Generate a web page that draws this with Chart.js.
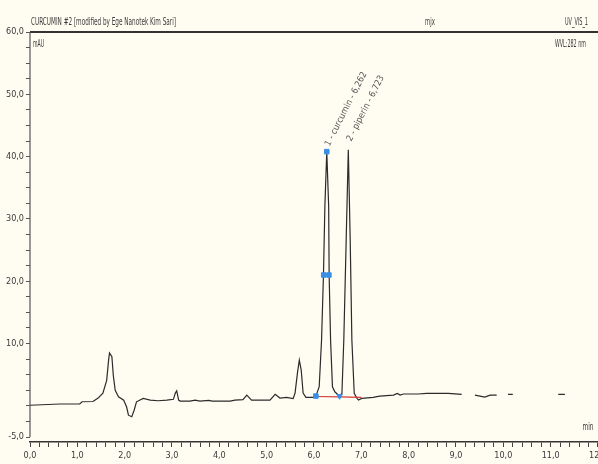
<!DOCTYPE html>
<html>
<head>
<meta charset="utf-8">
<script src="https://cdn.jsdelivr.net/npm/chart.js@4.4.1/dist/chart.umd.min.js"></script>
<style>
  html, body { margin: 0; padding: 0; background: #fffcf2; width: 598px; height: 464px; overflow: hidden; }
</style>
</head>
<body>
<!-- canvas is wider than the window so the last x label ("12,0") is cut like in the original -->
<canvas id="chromatogram" width="610" height="464"></canvas>
<script>
// retention time (min) / signal (mAU); null = gap in the plotted line
const retentionTimes = [
  0, 0.63, 1.05, 1.10, 1.33, 1.44, 1.54, 1.62, 1.66, 1.68, 1.73, 1.76, 1.80, 1.87, 1.98,
  2.04, 2.08, 2.15, 2.20, 2.25, 2.39, 2.54, 2.71, 2.89, 3.03, 3.07, 3.10, 3.14, 3.17, 3.38,
  3.49, 3.59, 3.78, 3.85, 4.23, 4.33, 4.50, 4.58, 4.68, 5.07, 5.18, 5.28, 5.42, 5.56, 5.60,
  5.65, 5.69, 5.73, 5.77, 5.83, 5.99, 6.04, 6.11, 6.16, 6.20, 6.23, 6.27, 6.31, 6.32, 6.35,
  6.39, 6.44, 6.54, 6.59, 6.63, 6.68, 6.725, 6.765, 6.80, 6.85, 6.91, 6.94, 7.01, 7.25, 7.39,
  7.68, 7.76, 7.82, 7.89, 8.20, 8.38, 8.84, 9.12, 9.25, 9.40, 9.61, 9.72, 9.86, 9.98, 10.10,
  10.20, 10.60, 11.16, 11.30
];
const absorbance = [
  0.1, 0.3, 0.3, 0.66, 0.7, 1.25, 2.05, 4.1, 7.3, 8.5, 7.9, 4.9, 2.5, 1.45, 0.9,
  -0.15, -1.5, -1.75, -0.7, 0.65, 1.2, 0.93, 0.82, 0.93, 1.05, 2.05, 2.4, 0.93, 0.77, 0.77,
  0.93, 0.77, 0.88, 0.77, 0.77, 0.93, 1.0, 1.73, 0.93, 0.93, 1.85, 1.25, 1.36, 1.17, 2.05,
  5.26, 7.35, 5.75, 2.05, 1.36, 1.36, 1.57, 3.07, 10.6, 21.0, 32.0, 40.8, 32.0, 21.0, 10.6,
  3.07, 2.26, 1.57, 2.0, 10.6, 26.6, 41.1, 26.6, 10.6, 2.0, 1.2, 0.93, 1.2, 1.36, 1.57,
  1.73, 2.0, 1.73, 1.9, 1.9, 2.0, 2.0, 1.85, null, 1.73, 1.4, 1.73, 1.73, null, 1.85,
  1.85, null, 1.85, 1.85
];

// integration marks (peak top, half-height, start, valley)
const markerTimes = [6.27, 6.205, 6.315, 6.04, 6.54];
const markerValues = [40.8, 21.0, 21.0, 1.57, 1.57];
const markerStyles = ['rect', 'rect', 'rect', 'rect', 'triangle'];

// integration baseline
const baselineTimes = [6.04, 6.54, 7.0];
const baselineValues = [1.5, 1.45, 1.35];

// peak annotations
const peakNames = ['1 - curcumin - 6,262', '2 - piperin - 6,723'];
const peakTimes = [6.262, 6.72];
const peakHeights = [40.8, 41.1];

const yLabelValues = [60, 50, 40, 30, 20, 10, -5];
const yMin = -5.8, yMax = 60;
const xMin = 0, xMax = 12;

const FONT = "'Liberation Sans Narrow', 'DejaVu Sans Condensed', 'Liberation Sans', sans-serif";
const TEXT = '#3a3a3a';

function fmt(v) {
  return v.toFixed(1).replace('.', ',');
}

// squeeze a text horizontally to the width it has in the original
function fitText(ctx, str, x, y, align, width) {
  const w = ctx.measureText(str).width;
  const k = Math.min(1, width / w);
  ctx.save();
  ctx.translate(x, y);
  ctx.scale(k, 1);
  ctx.textAlign = align;
  ctx.fillText(str, 0, 0);
  ctx.restore();
}

const frame = {
  id: 'frame',
  afterDraw(chart) {
    const { ctx, chartArea } = chart;
    const x = chart.scales.x, y = chart.scales.y;
    const top = y.getPixelForValue(yMax);
    const bottom = y.getPixelForValue(-5);
    ctx.save();
    ctx.strokeStyle = '#333';
    ctx.lineWidth = 2;
    ctx.beginPath();
    ctx.moveTo(chartArea.left, top);
    ctx.lineTo(chartArea.right, top);
    ctx.stroke();
    ctx.lineWidth = 1.2;
    ctx.strokeStyle = '#555';
    ctx.beginPath();
    ctx.moveTo(chartArea.left, top);
    ctx.lineTo(chartArea.left, bottom);
    ctx.stroke();

    ctx.fillStyle = TEXT;
    ctx.font = '10px ' + FONT;
    ctx.textBaseline = 'middle';
    fitText(ctx, 'CURCUMIN #2 [modified by Ege Nanotek Kim Sari]', 31, 22, 'left', 145);
    fitText(ctx, 'mAU', 33, 44, 'left', 11);
    fitText(ctx, 'mjx', 430, 22, 'center', 10);
    fitText(ctx, 'min', 588, 427, 'center', 11);
    fitText(ctx, 'UV_VIS_1', 588, 22, 'right', 23);
    fitText(ctx, 'WVL:282 nm', 586, 44, 'right', 31);

    // rotated peak labels
    ctx.font = '9px ' + FONT;
    ctx.textAlign = 'left';
    ctx.fillStyle = '#555';
    peakNames.forEach((name, i) => {
      const px = x.getPixelForValue(peakTimes[i]);
      const py = y.getPixelForValue(peakHeights[i]);
      ctx.save();
      ctx.translate(px + 1, py - 6 - 3 * i);
      ctx.rotate(-63 * Math.PI / 180);
      ctx.fillText(name, 0, 0);
      ctx.restore();
    });
    ctx.restore();
  }
};

new Chart(document.getElementById('chromatogram'), {
  type: 'line',
  data: {
    datasets: [
      {
        label: 'UV_VIS_1',
        data: retentionTimes.map((t, i) => ({ x: t, y: absorbance[i] })),
        borderColor: '#2b2b2b',
        borderWidth: 1.2,
        pointRadius: 0,
        tension: 0,
        spanGaps: false,
        order: 3
      },
      {
        label: 'baseline',
        data: baselineTimes.map((t, i) => ({ x: t, y: baselineValues[i] })),
        borderColor: '#d23a3a',
        borderWidth: 1.2,
        pointRadius: 0,
        order: 2
      },
      {
        label: 'marks',
        data: markerTimes.map((t, i) => ({ x: t, y: markerValues[i] })),
        showLine: false,
        pointStyle: markerStyles,
        pointRotation: markerStyles.map(s => s === 'triangle' ? 180 : 0),
        pointRadius: 3.2,
        pointBackgroundColor: '#3a8ee6',
        pointBorderColor: '#3a8ee6',
        pointBorderWidth: 1,
        order: 1
      }
    ]
  },
  options: {
    responsive: false,
    animation: false,
    events: [],
    layout: { padding: { top: 32, left: 0, right: 0, bottom: 0 } },
    plugins: { legend: { display: false }, tooltip: { enabled: false } },
    scales: {
      x: {
        type: 'linear',
        min: xMin,
        max: xMax,
        afterBuildTicks: (s) => {
          const t = [];
          for (let i = 0; i <= xMax * 5; i++) t.push({ value: i / 5 });
          s.ticks = t;
        },
        afterFit: (s) => { s.height = 22; },
        ticks: {
          autoSkip: false,
          maxRotation: 0,
          padding: 3,
          color: TEXT,
          font: { family: FONT, size: 9 },
          callback: (v) => Math.abs(v - Math.round(v)) < 1e-6 ? fmt(Math.round(v)) : ''
        },
        grid: { drawOnChartArea: false, tickLength: 5, tickColor: '#444' },
        border: { display: true, color: '#333', width: 1.5 }
      },
      y: {
        type: 'linear',
        min: yMin,
        max: yMax,
        afterBuildTicks: (s) => {
          const t = [];
          for (let i = -2; i <= 24; i++) t.push({ value: i * 2.5 });
          s.ticks = t;
        },
        afterFit: (s) => { s.width = 30; s.paddingTop = 0; s.paddingBottom = 0; },
        ticks: {
          autoSkip: false,
          padding: 2,
          color: TEXT,
          font: { family: FONT, size: 9 },
          callback: (v) => yLabelValues.includes(v) ? fmt(v) : ''
        },
        grid: { drawOnChartArea: false, tickLength: 4, tickColor: '#555' },
        border: { display: false }
      }
    }
  },
  plugins: [frame]
});
</script>
</body>
</html>
